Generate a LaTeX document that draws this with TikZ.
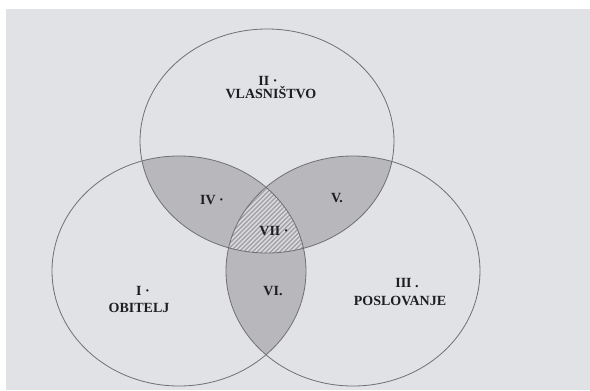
\documentclass[tikz,border=0pt]{standalone}
\usepackage{fontspec}
\setmainfont{Liberation Serif}
\definecolor{paper}{RGB}{224,226,230}
\definecolor{ink}{RGB}{112,112,116}
\definecolor{venngray}{RGB}{184,183,188}
\definecolor{hatchbg}{RGB}{218,218,222}
\definecolor{hatchln}{RGB}{158,158,163}
\definecolor{txt}{RGB}{30,30,32}
\tikzset{every picture/.style={line width=0.6pt}}

\begin{document}
\begin{tikzpicture}[x=0.75pt,y=0.75pt,yscale=-1,xscale=1,
  ring/.style={draw=ink,line width=0.6pt},
  hatch/.style={draw=hatchln,line width=1pt},
  lbl/.style={anchor=base,inner sep=0.75pt,text=txt,font=\fontsize{10.5}{12}\selectfont\bfseries}]
  \useasboundingbox (0,0) rectangle (590,390);
  %Scanned page
  \fill[white] (0,0) rectangle (590,390);
  \fill[paper] (6,9) rectangle (590,390);

  %centres of the three sets
  \coordinate (vl) at (267,141);
  \coordinate (ob) at (179,271);
  \coordinate (po) at (353,271);

  %IV and V: top set with each lower set
  \begin{scope}
    \clip (vl) ellipse [x radius=127, y radius=112];
    \fill[venngray] (ob) ellipse [x radius=127, y radius=115];
    \fill[venngray] (po) ellipse [x radius=127, y radius=115];
  \end{scope}
  %VI: the two lower sets
  \begin{scope}
    \clip (ob) ellipse [x radius=127, y radius=115];
    \fill[venngray] (po) ellipse [x radius=127, y radius=115];
  \end{scope}
  %VII: all three, hatched
  \begin{scope}
    \clip (vl) ellipse [x radius=127, y radius=112];
    \clip (ob) ellipse [x radius=127, y radius=115];
    \clip (po) ellipse [x radius=127, y radius=115];
    \fill[hatchbg] (220,180) rectangle (315,260);
    \foreach \c in {410,414.5,...,566}
      \draw[hatch] (\c-280,280) -- (\c-180,180);
  \end{scope}

  %Outlines
  \draw[ring] (vl) ellipse [x radius=127, y radius=112];
  \draw[ring] (ob) ellipse [x radius=127, y radius=115];
  \draw[ring] (po) ellipse [x radius=127, y radius=115];

  % Text Nodes
  \node[lbl] (vlnum) at (268,85) {II ·};
  \node[lbl] (vltxt) at (271,98) {VLASNIŠTVO};
  \node[lbl] (obnum) at (143,295) {I ·};
  \node[lbl] (obtxt) at (139,312) {OBITELJ};
  \node[lbl] (ponum) at (407,287) {III .};
  \node[lbl] (potxt) at (400,305) {POSLOVANJE};
  \node[lbl] (iv) at (212,204) {IV ·};
  \node[lbl] (v) at (337,202) {V.};
  \node[lbl] (vii) at (274,235) {VII ·};
  \node[lbl] (vi) at (273,295) {VI.};

\end{tikzpicture}
\end{document}
